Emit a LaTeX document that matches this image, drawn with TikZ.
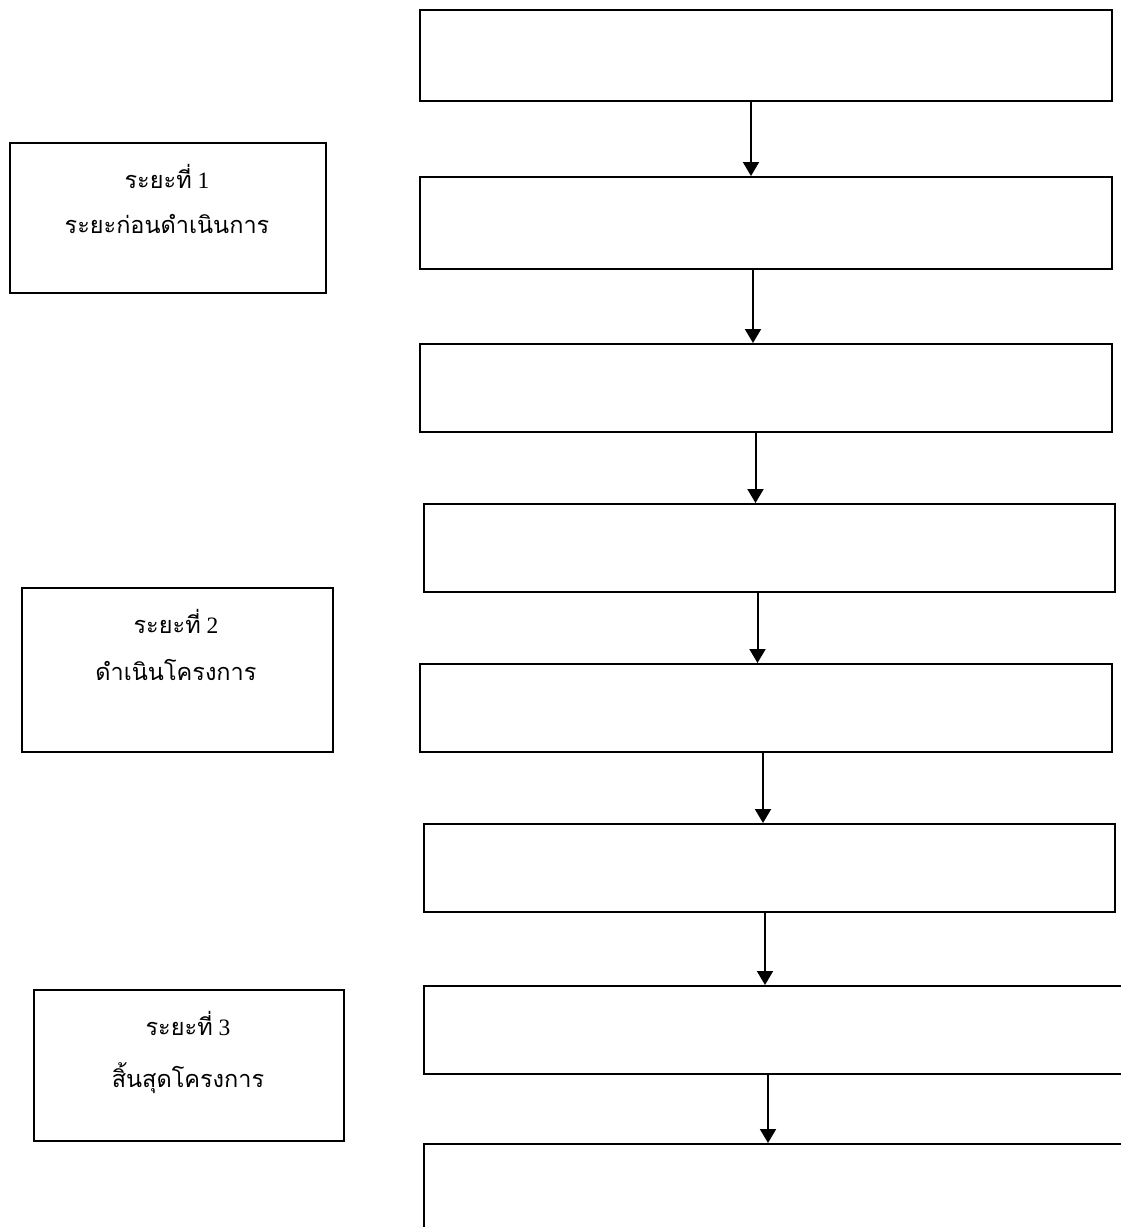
\documentclass[tikz,border=0pt]{standalone}
\usepackage{fontspec}
\setmainfont{Liberation Serif}
\newfontfamily\thai[Script=Thai]{Loma}
\usetikzlibrary{arrows.meta,calc}
\tikzset{
  flowbox/.style={draw, line width=1.6pt, anchor=north west, inner sep=0pt},
  phasebox/.style={draw, line width=1.6pt, anchor=north west, inner sep=0pt},
  phasetext/.style={font=\fontsize{23.5}{28}\selectfont, anchor=base, inner sep=0pt},
  arr/.style={line width=2pt, -{Triangle[length=14pt,width=16pt]}}
}
\begin{document}
\begin{tikzpicture}[x=1pt,y=-1pt]
\clip (0,0) rectangle (1121,1227);
\fill[white] (0,0) rectangle (1121,1227);
% right flow boxes
\node[flowbox, minimum width=692pt, minimum height=91pt] (b1) at (419,9) {};
\node[flowbox, minimum width=692pt, minimum height=92pt] (b2) at (419,176) {};
\node[flowbox, minimum width=692pt, minimum height=88pt] (b3) at (419,343) {};
\node[flowbox, minimum width=691pt, minimum height=88pt] (b4) at (423,503) {};
\node[flowbox, minimum width=692pt, minimum height=88pt] (b5) at (419,663) {};
\node[flowbox, minimum width=691pt, minimum height=88pt] (b6) at (423,823) {};
\node[flowbox, minimum width=720pt, minimum height=88pt] (b7) at (423,985) {};
\node[flowbox, minimum width=720pt, minimum height=120pt] (b8) at (423,1143) {};
% arrows
\draw[arr] (b1.south -| 751,0) -- (b2.north -| 751,0);
\draw[arr] (b2.south -| 753,0) -- (b3.north -| 753,0);
\draw[arr] (b3.south -| 755.5,0) -- (b4.north -| 755.5,0);
\draw[arr] (b4.south -| 757.5,0) -- (b5.north -| 757.5,0);
\draw[arr] (b5.south -| 763,0) -- (b6.north -| 763,0);
\draw[arr] (b6.south -| 765,0) -- (b7.north -| 765,0);
\draw[arr] (b7.south -| 768,0) -- (b8.north -| 768,0);
% phase boxes
\node[phasebox, minimum width=316pt, minimum height=150pt] (p1) at (9,142) {};
\node[phasebox, minimum width=311pt, minimum height=164pt] (p2) at (21,587) {};
\node[phasebox, minimum width=310pt, minimum height=151pt] (p3) at (33,989) {};
\node[phasetext] (p1a) at (167,188) {{\thai ระยะที่} 1};
\node[phasetext] (p1b) at (167,233) {\thai ระยะก่อนดำเนินการ};
\node[phasetext] (p2a) at (176,633) {{\thai ระยะที่} 2};
\node[phasetext] (p2b) at (176,680) {\thai ดำเนินโครงการ};
\node[phasetext] (p3a) at (188,1035) {{\thai ระยะที่} 3};
\node[phasetext] (p3b) at (188,1087) {\thai สิ้นสุดโครงการ};
\end{tikzpicture}
\end{document}
